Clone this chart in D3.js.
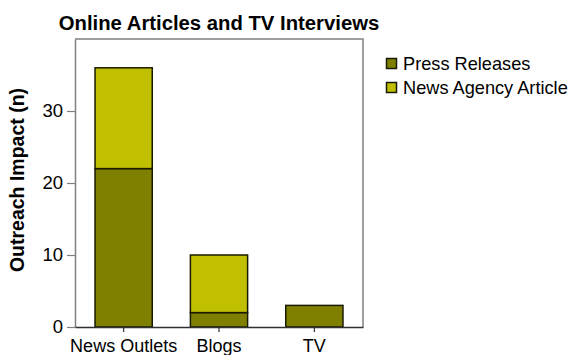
<!DOCTYPE html>
<html>
<head>
<meta charset="utf-8">
<script src="https://cdn.jsdelivr.net/npm/d3@7"></script>
<style>
  html, body { margin: 0; padding: 0; background: #fff; }
  svg { display: block; }
  text { font-family: "Liberation Sans", Arial, sans-serif; fill: #000; }
</style>
</head>
<body>
<svg id="chart" width="573" height="355"></svg>
<script>
// Outreach counts by channel
const categories = ["News Outlets", "Blogs", "TV"];
const seriesNames = ["Press Releases", "News Agency Article"];
const pressReleases = [22, 2, 3];
const newsAgency = [14, 8, 0];
const yTicks = [0, 10, 20, 30];
const colors = ["#808000", "#c0c000"];

const svg = d3.select("#chart");
const plotLeft = 75, plotRight = 363, plotTop = 39, plotBottom = 327;

const x = d3.scaleBand().domain(categories).range([plotLeft, plotRight])
  .paddingInner(0.4).paddingOuter(0.21);
const y = d3.scaleLinear().domain([0, 40]).range([plotBottom, plotTop]);

// Stack the two series per category
const rows = categories.map((c, i) => ({ cat: c, "Press Releases": pressReleases[i], "News Agency Article": newsAgency[i] }));
const stacked = d3.stack().keys(seriesNames)(rows);

// Plot frame (top and right edges)
svg.append("path")
  .attr("d", `M${plotLeft},${plotTop}H${plotRight}V${plotBottom}`)
  .attr("fill", "none").attr("stroke", "#808080").attr("stroke-width", 1.5);

// Bars
stacked.forEach((layer, k) => {
  svg.append("g").selectAll("rect")
    .data(layer.filter(d => d[1] - d[0] > 0))
    .join("rect")
    .attr("x", d => x(d.data.cat))
    .attr("width", x.bandwidth())
    .attr("y", d => y(d[1]))
    .attr("height", d => y(d[0]) - y(d[1]))
    .attr("fill", colors[k])
    .attr("stroke", "#1a1a00")
    .attr("stroke-width", 1.5);
});

// Y axis
const yAxis = svg.append("g").attr("transform", `translate(${plotLeft},0)`)
  .call(d3.axisLeft(y).tickValues(yTicks).tickSize(8).tickPadding(4).tickSizeOuter(0));
yAxis.select(".domain").attr("stroke", "#808080").attr("stroke-width", 1.5);
yAxis.selectAll(".tick line").attr("stroke", "#808080").attr("stroke-width", 1.2);
yAxis.selectAll(".tick text").style("font-size", "18.5px").style("font-family", "Liberation Sans, Arial, sans-serif");

// X axis
const xAxis = svg.append("g").attr("transform", `translate(0,${plotBottom})`)
  .call(d3.axisBottom(x).tickSize(5).tickPadding(7).tickSizeOuter(0));
xAxis.select(".domain").attr("stroke", "#303030").attr("stroke-width", 1.5);
xAxis.selectAll(".tick line").attr("stroke", "#303030").attr("stroke-width", 1.2);
xAxis.selectAll(".tick text").style("font-size", "18px").style("font-family", "Liberation Sans, Arial, sans-serif");

// Title
svg.append("text")
  .attr("x", (plotLeft + plotRight) / 2).attr("y", 30)
  .attr("text-anchor", "middle")
  .style("font-size", "20.3px").style("font-weight", "bold")
  .text("Online Articles and TV Interviews");

// Y axis title
svg.append("text")
  .attr("transform", `translate(24,180) rotate(-90)`)
  .attr("text-anchor", "middle")
  .style("font-size", "19.5px").style("font-weight", "bold")
  .text("Outreach Impact (n)");

// Legend
const legend = svg.append("g").attr("transform", "translate(386,58)");
seriesNames.forEach((name, i) => {
  const g = legend.append("g").attr("transform", `translate(0,${i * 24})`);
  g.append("rect").attr("x", 0.5).attr("y", 0.5).attr("width", 10).attr("height", 10)
    .attr("fill", colors[i]).attr("stroke", "#1a1a00").attr("stroke-width", 1.5);
  g.append("text").attr("x", 17).attr("y", 11.5)
    .style("font-size", "18.2px").text(name);
});
</script>
</body>
</html>
